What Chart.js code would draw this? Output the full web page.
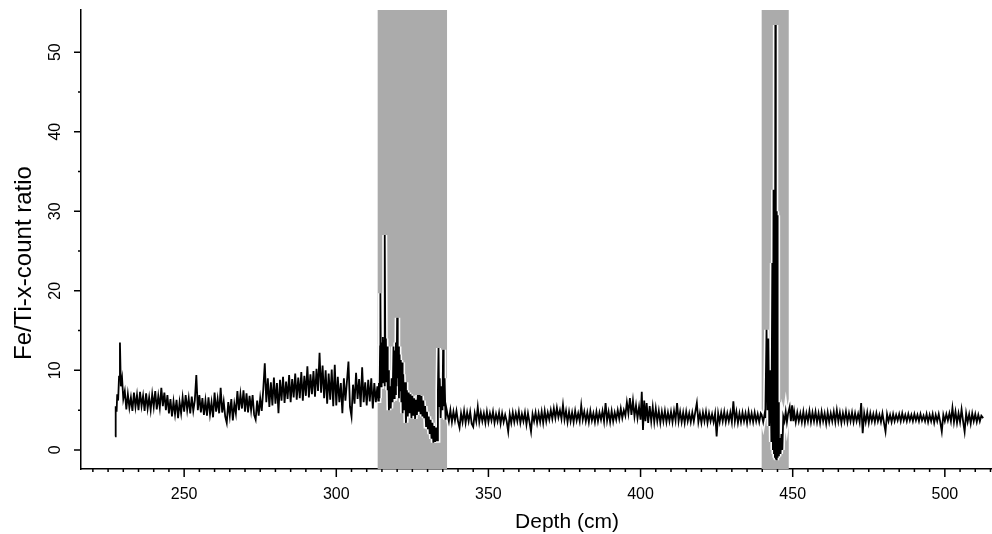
<!DOCTYPE html>
<html lang="en">
<head>
<meta charset="UTF-8">
<title>Fe/Ti-x-count ratio vs depth</title>
<script src="https://cdn.jsdelivr.net/npm/chart.js"></script>
<style>
    * {
        margin: 0;
        padding: 0;
        box-sizing: border-box;
    }
    body {
        background: #fff;
        width: 992px;
        height: 534px;
        overflow: hidden;
    }
</style>
</head>
<body>
<canvas id="feTiChart" width="992" height="534"></canvas>
<script>
// [depth cm, Fe/Ti ratio], section by section
const upperCore = [
    [227.3, 1.7], [227.5, 5.5], [227.8, 4.8], [228.0, 7.0], [228.3, 6.2], [228.6, 9.2], [228.9, 13.5], [229.2, 8.0], [229.6, 9.0], [230.0, 6.4],
    [230.5, 7.4], [231, 5.1], [231.5, 7.0], [232, 5.3], [232.5, 6.6], [233, 4.9], [233.5, 7.2], [234, 5.4], [234.5, 6.9], [235, 5.0],
    [235.5, 7.3], [236, 5.5], [236.5, 6.8], [237, 4.9], [237.5, 7.1], [238, 5.2], [238.5, 6.6], [239, 5.0], [239.5, 7.0], [240, 5.4],
    [240.5, 7.4], [241, 5.1], [241.5, 6.8], [242, 5.3], [242.5, 7.8], [243, 5.5], [243.5, 7.2], [244, 5.0], [244.5, 6.9], [245, 4.6],
    [245.5, 6.4], [246, 4.2], [246.5, 6.1], [247, 4.5], [247.5, 6.3], [248, 4.0], [248.5, 6.0], [249, 4.6], [249.5, 6.6], [250, 4.8],
    [250.5, 6.9], [251, 5.0], [251.5, 6.5], [252, 4.6], [252.5, 6.7], [253, 4.9], [253.5, 6.2], [254, 9.4], [254.5, 5.0], [255, 6.9],
    [255.5, 4.7], [256, 6.5], [256.5, 4.4], [257, 6.2], [257.5, 4.3], [258, 6.6], [258.5, 4.5], [259, 6.0], [259.5, 4.1], [260, 7.2],
    [260.5, 4.8], [261, 6.4], [261.5, 4.6], [262, 7.8], [262.5, 4.7], [263, 6.1], [263.5, 4.2], [264, 3.4], [264.5, 6.0], [265, 4.3],
    [265.5, 6.4], [266, 3.7], [266.5, 5.8], [267, 4.6], [267.5, 7.4], [268, 5.0], [268.5, 7.0], [269, 5.2], [269.5, 7.5], [270, 4.8],
    [270.5, 7.1], [271, 4.7], [271.5, 6.8], [272, 5.0], [272.5, 6.9], [273, 4.4], [273.5, 3.8], [274, 6.2], [274.5, 4.3], [275, 6.5],
    [275.5, 4.9], [276, 7.6], [276.5, 10.9], [277, 6.0], [277.5, 9.0], [278, 5.4], [278.5, 8.5], [279, 5.6], [279.5, 9.1], [280, 5.8],
    [280.5, 8.4], [281, 4.6], [281.5, 8.8], [282, 6.2], [282.5, 9.2], [283, 5.9], [283.5, 8.6], [284, 6.4], [284.5, 9.4], [285, 6.0],
    [285.5, 8.9], [286, 6.6], [286.5, 9.6], [287, 6.3], [287.5, 9.1], [288, 6.5], [288.5, 9.8], [289, 6.2], [289.5, 9.3], [290, 6.8],
    [290.5, 10.5], [291, 6.6], [291.5, 9.5], [292, 7.0], [292.5, 9.9], [293, 6.7], [293.5, 10.2], [294, 7.4], [294.5, 12.2], [295, 7.2],
    [295.5, 10.6], [296, 6.5], [296.5, 10.0], [297, 5.8], [297.5, 9.6], [298, 6.3], [298.5, 10.1], [299, 5.5], [299.5, 10.7], [300, 5.6],
    [300.5, 9.2], [301, 6.0], [301.5, 8.4], [302, 4.6], [302.5, 9.0], [303, 6.2], [303.5, 8.6], [304, 11.1], [304.5, 5.4], [305, 4.2],
    [305.5, 8.2], [306, 5.8], [306.5, 9.7], [307, 6.4], [307.5, 8.9], [308, 5.4], [308.5, 10.4], [309, 6.0], [309.5, 8.5], [310, 5.6],
    [310.5, 8.8], [311, 6.1], [311.5, 9.0], [312, 5.2], [312.5, 8.4], [313, 6.0], [313.5, 8.0]
];

const zoneOne = [
    [313.8, 6.2], [314.0, 8.4], [314.2, 6.5], [314.4, 13.0], [314.5, 19.7], [314.7, 8.0], [314.9, 13.5], [315.1, 8.5], [315.3, 14.2], [315.5, 9.0],
    [315.7, 13.8], [315.85, 8.0], [316.0, 27.0], [316.15, 9.5], [316.3, 14.0], [316.5, 8.5], [316.7, 13.0], [316.9, 7.5], [317.1, 10.0], [317.3, 5.0],
    [317.6, 8.0], [317.9, 5.2], [318.2, 9.0], [318.5, 6.0], [318.8, 13.0], [319.0, 6.5], [319.2, 12.5], [319.4, 7.0], [319.6, 13.5], [319.8, 8.0],
    [320.0, 16.6], [320.2, 9.0], [320.4, 13.0], [320.6, 6.5], [320.8, 12.0], [321.0, 7.5], [321.2, 11.3], [321.4, 6.0], [321.6, 11.0], [321.8, 4.6],
    [322.0, 9.5], [322.3, 5.0], [322.6, 8.5], [322.9, 3.4], [323.2, 7.5], [323.5, 4.2], [323.8, 7.2], [324.1, 4.6], [324.4, 7.0], [324.7, 4.0],
    [325.0, 6.8], [325.3, 4.3], [325.6, 6.5], [325.9, 3.9], [326.2, 6.3], [326.5, 4.4], [326.8, 6.9], [327.1, 4.8], [327.4, 6.9], [327.7, 4.5],
    [328.0, 6.8], [328.3, 4.2], [328.6, 6.2], [328.9, 4.0], [329.2, 5.5], [329.5, 3.0], [329.8, 4.8], [330.1, 2.6], [330.4, 4.2], [330.7, 2.0],
    [331.0, 3.8], [331.3, 1.4], [331.6, 3.4], [331.9, 0.9], [332.2, 3.0], [332.5, 1.0], [332.8, 2.8], [333.1, 1.2], [333.4, 7.5], [333.6, 12.8],
    [333.8, 5.5], [334.0, 9.0], [334.3, 4.0], [334.6, 8.0], [334.9, 5.0], [335.1, 12.6], [335.3, 5.5], [335.6, 9.0], [335.9, 3.8], [336.2, 5.2]
];

const middleCore = [
    [336.5, 4.6], [337, 3.6], [337.5, 5.0], [338, 3.5], [338.5, 4.8], [339, 3.7], [339.5, 4.9], [340, 3.6], [340.5, 2.8], [341, 4.6],
    [341.5, 3.5], [342, 4.9], [342.5, 3.4], [343, 4.7], [343.5, 3.6], [344, 4.8], [344.5, 3.3], [345, 2.9], [345.5, 4.6], [346, 3.6],
    [346.5, 5.4], [347, 3.5], [347.5, 4.7], [348, 3.6], [348.5, 4.6], [349, 3.4], [349.5, 4.8], [350, 3.5], [350.5, 4.6], [351, 3.7],
    [351.5, 4.8], [352, 3.4], [352.5, 4.5], [353, 3.6], [353.5, 4.7], [354, 3.3], [354.5, 4.6], [355, 3.5], [355.5, 4.4], [356, 3.6],
    [356.5, 2.3], [357, 4.5], [357.5, 3.4], [358, 4.7], [358.5, 3.5], [359, 4.6], [359.5, 3.6], [360, 4.8], [360.5, 3.4], [361, 4.5],
    [361.5, 3.6], [362, 4.7], [362.5, 3.2], [363, 4.6], [363.5, 3.5], [364, 2.3], [364.5, 4.5], [365, 3.6], [365.5, 4.7], [366, 3.4],
    [366.5, 4.6], [367, 3.5], [367.5, 4.8], [368, 3.4], [368.5, 4.9], [369, 3.6], [369.5, 4.7], [370, 3.8], [370.5, 5.0], [371, 3.9],
    [371.5, 5.2], [372, 4.0], [372.5, 5.3], [373, 4.1], [373.5, 5.0], [374, 3.9], [374.5, 5.65], [375, 3.8], [375.5, 4.9], [376, 3.5],
    [376.5, 4.8], [377, 3.6], [377.5, 4.7], [378, 3.5], [378.5, 4.9], [379, 3.7], [379.5, 4.6], [380, 3.6], [380.5, 5.6], [381, 3.8],
    [381.5, 4.8], [382, 3.6], [382.5, 4.7], [383, 3.5], [383.5, 4.9], [384, 3.7], [384.5, 4.6], [385, 3.5], [385.5, 4.8], [386, 3.6],
    [386.5, 4.7], [387, 3.8], [387.5, 4.9], [388, 3.6], [388.5, 5.9], [389, 3.7], [389.5, 4.8], [390, 3.5], [390.5, 4.9], [391, 3.6],
    [391.5, 4.7], [392, 3.8], [392.5, 5.0], [393, 3.9], [393.5, 5.2], [394, 4.0], [394.5, 5.0], [395, 4.3], [395.5, 6.0], [396, 4.6],
    [396.5, 6.5], [397, 4.4], [397.5, 6.2], [398, 4.2], [398.5, 5.6], [399, 4.0], [399.5, 5.4], [400, 3.8], [400.4, 7.3], [400.8, 2.5],
    [401.2, 6.2], [401.6, 3.6], [402, 5.9], [402.5, 3.4], [403, 5.5], [403.5, 3.6], [404, 5.4], [404.5, 3.5], [405, 5.2], [405.5, 3.6],
    [406, 4.9], [406.5, 3.4], [407, 4.8], [407.5, 3.6], [408, 4.9], [408.5, 3.5], [409, 4.7], [409.5, 3.6], [410, 4.8], [410.5, 3.5],
    [411, 4.9], [411.5, 3.7], [412, 5.9], [412.5, 3.6], [413, 4.8], [413.5, 3.5], [414, 4.7], [414.5, 3.4], [415, 4.8], [415.5, 3.6],
    [416, 4.6], [416.5, 3.5], [417, 4.7], [417.5, 3.6], [418, 4.8], [418.5, 5.9], [419, 3.5], [419.5, 4.6], [420, 3.4], [420.5, 4.7],
    [421, 3.6], [421.5, 4.8], [422, 3.4], [422.5, 4.6], [423, 3.6], [423.5, 4.5], [424, 3.5], [424.5, 4.6], [425, 1.7], [425.5, 4.6],
    [426, 3.5], [426.5, 4.7], [427, 3.6], [427.5, 4.8], [428, 3.5], [428.5, 4.6], [429, 3.6], [429.5, 4.7], [430, 3.5], [430.5, 6.1],
    [431, 3.6], [431.5, 4.8], [432, 3.4], [432.5, 4.6], [433, 3.5], [433.5, 4.7], [434, 3.6], [434.5, 4.6], [435, 3.4], [435.5, 4.8],
    [436, 3.6], [436.5, 4.6], [437, 3.5], [437.5, 4.7], [438, 3.6], [438.5, 4.5], [439, 3.5], [439.5, 4.6]
];

const zoneTwo = [
    [439.8, 4.4], [440.3, 3.5], [440.8, 4.6], [441.0, 4.0], [441.4, 15.1], [441.7, 5.0], [442.0, 14.0], [442.3, 3.0], [442.7, 10.0], [443.0, 1.0],
    [443.3, 23.5], [443.5, 0.0], [443.7, 32.7], [443.85, -0.5], [444.0, 30.0], [444.15, -1.0], [444.3, 53.4], [444.45, -1.2], [444.6, 30.0], [444.75, -1.3],
    [444.9, 29.5], [445.05, -1.0], [445.25, 6.0], [445.45, -0.8], [445.7, 1.5], [446.0, -0.5], [446.3, 2.0], [446.6, 0.0], [446.9, 4.2], [447.3, 3.6],
    [447.7, 4.8], [448.1, 3.5], [448.5, 4.6]
];

const lowerCore = [
    [449.0, 5.4], [449.4, 3.6], [449.8, 5.6], [450.2, 3.6], [450.5, 4.8], [451, 3.5], [451.5, 4.7], [452, 3.6], [452.5, 4.6], [453, 3.5],
    [453.5, 4.8], [454, 3.4], [454.5, 4.6], [455, 3.6], [455.5, 4.9], [456, 3.5], [456.5, 4.7], [457, 3.6], [457.5, 4.8], [458, 3.5],
    [458.5, 4.6], [459, 3.4], [459.5, 4.8], [460, 3.6], [460.5, 4.6], [461, 3.3], [461.5, 4.7], [462, 3.5], [462.5, 4.6], [463, 3.6],
    [463.5, 4.8], [464, 3.5], [464.5, 5.0], [465, 3.6], [465.5, 4.7], [466, 3.4], [466.5, 4.6], [467, 3.6], [467.5, 4.8], [468, 3.5],
    [468.5, 4.6], [469, 3.6], [469.5, 4.7], [470, 3.5], [470.5, 4.6], [471, 3.6], [471.5, 4.5], [472, 3.5], [472.5, 5.9], [473, 2.1],
    [473.5, 4.6], [474, 3.5], [474.5, 4.7], [475, 3.4], [475.5, 4.6], [476, 3.6], [476.5, 4.5], [477, 3.5], [477.5, 4.6], [478, 3.6],
    [478.5, 4.4], [479, 3.5], [479.5, 4.6], [480, 3.4], [480.5, 2.3], [481, 4.5], [481.5, 3.6], [482, 4.4], [482.5, 3.5], [483, 4.5],
    [483.5, 3.6], [484, 4.4], [484.5, 3.7], [485, 4.5], [485.5, 3.6], [486, 4.6], [486.5, 3.7], [487, 4.4], [487.5, 3.6], [488, 4.5],
    [488.5, 3.7], [489, 4.4], [489.5, 3.6], [490, 4.5], [490.5, 3.7], [491, 4.4], [491.5, 3.6], [492, 4.5], [492.5, 3.7], [493, 4.3],
    [493.5, 3.6], [494, 4.5], [494.5, 3.5], [495, 4.4], [495.5, 3.6], [496, 4.5], [496.5, 3.4], [497, 4.4], [497.5, 3.6], [498, 4.5],
    [498.5, 3.5], [499, 2.3], [499.5, 4.4], [500, 3.6], [500.5, 4.5], [501, 3.7], [501.5, 4.6], [502, 3.6], [502.5, 5.3], [503, 3.5],
    [503.5, 4.8], [504, 3.4], [504.5, 4.6], [505, 3.5], [505.5, 5.1], [506, 3.6], [506.5, 2.3], [507, 4.6], [507.5, 3.5], [508, 4.5],
    [508.5, 3.3], [509, 4.6], [509.5, 3.6], [510, 4.5], [510.5, 3.5], [511, 4.4], [511.5, 3.6], [512, 4.3], [512.6, 4.0]
];

const depthTicks = [250, 300, 350, 400, 450, 500];
const ratioTicks = [0, 10, 20, 30, 40, 50];
// grey bands (cm)
const shadedZones = [[313.6, 336.4], [439.8, 448.7]];

const FONT = '"Liberation Sans", Arial, sans-serif';
const INK = '#000';

const points = [...upperCore, ...zoneOne, ...middleCore, ...zoneTwo, ...lowerCore]
    .map(([d, r]) => ({ x: d, y: r }));

// grey bands, minor/major ticks, rotated y labels, axis titles
const axisDecor = {
    id: 'axisDecor',
    beforeDatasetsDraw(chart) {
        const { ctx, chartArea, scales } = chart;
        ctx.save();
        ctx.fillStyle = '#ababab';
        shadedZones.forEach(([a, b]) => {
            const x1 = scales.x.getPixelForValue(a);
            const x2 = scales.x.getPixelForValue(b);
            ctx.fillRect(x1, chartArea.top, x2 - x1, chartArea.bottom - chartArea.top);
        });
        ctx.restore();
    },
    afterDraw(chart) {
        const { ctx, chartArea, scales } = chart;
        const xs = scales.x, ys = scales.y;
        ctx.save();
        ctx.strokeStyle = INK;
        ctx.lineWidth = 1.5;
        ctx.beginPath();
        for (let v = 220; v <= xs.max; v += 5) {
            const px = xs.getPixelForValue(v);
            const len = depthTicks.includes(v) ? 8 : 3;
            ctx.moveTo(px, chartArea.bottom);
            ctx.lineTo(px, chartArea.bottom + len);
        }
        for (let v = 0; v <= 50; v += 5) {
            const py = ys.getPixelForValue(v);
            const len = ratioTicks.includes(v) ? 7 : 3;
            ctx.moveTo(chartArea.left, py);
            ctx.lineTo(chartArea.left - len, py);
        }
        ctx.stroke();

        ctx.fillStyle = INK;
        ctx.textAlign = 'center';
        ctx.textBaseline = 'middle';
        ctx.font = '16px ' + FONT;
        ratioTicks.forEach(v => {
            ctx.save();
            ctx.translate(56, ys.getPixelForValue(v));
            ctx.rotate(-Math.PI / 2);
            ctx.fillText(String(v), 0, 0);
            ctx.restore();
        });

        ctx.font = '21px ' + FONT;
        ctx.fillText('Depth (cm)', 567, 522);

        ctx.font = '24px ' + FONT;
        ctx.translate(24, 263);
        ctx.rotate(-Math.PI / 2);
        ctx.fillText('Fe/Ti-x-count ratio', 0, 0);
        ctx.restore();
    }
};

new Chart(document.getElementById('feTiChart'), {
    type: 'line',
    data: {
        datasets: [
            {
                label: 'Fe/Ti',
                data: points,
                borderColor: INK,
                borderWidth: 1.8,
                pointRadius: 0,
                tension: 0,
                order: 0
            },
            {
                // white outline, only shows over the grey bands
                label: 'halo',
                data: points,
                borderColor: 'rgba(255,255,255,0.95)',
                borderWidth: 5,
                pointRadius: 0,
                tension: 0,
                order: 1
            }
        ]
    },
    options: {
        responsive: false,
        animation: false,
        devicePixelRatio: 1,
        layout: { padding: { top: 10, left: 0, right: 0, bottom: 0 } },
        plugins: {
            legend: { display: false },
            tooltip: { enabled: false }
        },
        scales: {
            x: {
                type: 'linear',
                min: 216.1,
                max: 515.5,
                afterBuildTicks: s => { s.ticks = depthTicks.map(v => ({ value: v })); },
                afterFit: s => { s.height = 65; },
                grid: { display: false, drawTicks: true, tickLength: 8 },
                border: { display: true, color: INK, width: 1.5 },
                ticks: {
                    color: INK,
                    padding: 8,
                    maxRotation: 0,
                    font: { family: FONT, size: 16 },
                    callback: v => String(v)
                }
            },
            y: {
                type: 'linear',
                min: -2.4,
                max: 55.3,
                afterBuildTicks: s => { s.ticks = ratioTicks.map(v => ({ value: v })); },
                afterFit: s => { s.width = 81; },
                grid: { display: false },
                border: { display: true, color: INK, width: 1.5 },
                ticks: { display: false }
            }
        }
    },
    plugins: [axisDecor]
});
</script>
</body>
</html>
